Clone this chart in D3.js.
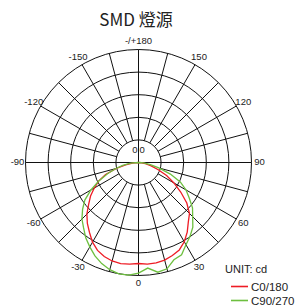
<!DOCTYPE html>
<meta charset="utf-8">
<script src="https://d3js.org/d3.v7.min.js"></script>
<style>
  body { margin: 0; background: #fff; }
</style>
<div id="my_dataviz"></div>
<script>

// angles (deg, 0 = straight down, positive to the right)
var angles = [-90,-85,-80,-75,-70,-65,-60,-55,-50,-45,-40,-35,-30,-25,-20,-15,-10,-5,
              0,5,10,15,20,25,30,35,40,45,50,55,60,65,70,75,80,85,90];

// intensity in cd
var c0_180 = [0,27,58,102,155,195,226,259,288,323,352,378,407,429,443,451,454,451,
              447,451,451,447,438,427,405,376,343,319,279,228,181,137,93,58,31,13,0];
var c90_270 = [0,35,71,106,146,195,243,290,323,354,378,407,431,456,476,491,500,500,
               489,469,493,487,458,451,420,398,374,339,312,274,243,204,150,93,53,22,0];

var ringValues = [100,200,300,400,500];
var angleLabels = [
  {a: 0, t: "0"}, {a: 30, t: "30"}, {a: 60, t: "60"}, {a: 90, t: "90"},
  {a: 120, t: "120"}, {a: 150, t: "150"}, {a: 180, t: "-/+180"},
  {a: -150, t: "-150"}, {a: -120, t: "-120"}, {a: -90, t: "-90"},
  {a: -60, t: "-60"}, {a: -30, t: "-30"}
];
var series = [
  {name: "C0/180", values: c0_180, color: "#ee1c25"},
  {name: "C90/270", values: c90_270, color: "#6dbf3f"}
];

var width = 296, height = 307,
    cx = 138.5, cy = 162.5, R = 113;

var svg = d3.select("#my_dataviz")
  .append("svg")
    .attr("width", width)
    .attr("height", height);

var r = d3.scaleLinear().domain([0, 500]).range([0, R]);
// d3 radial angle: 0 = up, clockwise
var ang = d3.scaleLinear().domain([-180, 180]).range([2 * Math.PI, 0]);

function px(a, rad) { return cx + rad * Math.sin(ang(a)); }
function py(a, rad) { return cy - rad * Math.cos(ang(a)); }

// title
svg.append("text")
  .attr("x", 136)
  .attr("y", 26)
  .attr("text-anchor", "middle")
  .attr("font-family", "'Noto Sans CJK TC', 'Noto Sans', sans-serif")
  .attr("font-size", 17)
  .attr("fill", "#222")
  .text("SMD 燈源");

var grid = svg.append("g")
  .attr("fill", "none")
  .attr("stroke", "#111")
  .attr("stroke-width", 1);

grid.selectAll("circle")
  .data(ringValues)
  .enter().append("circle")
    .attr("cx", cx)
    .attr("cy", cy)
    .attr("r", function(d) { return r(d); });

// spokes every 15 deg, starting at first ring
var spokes = d3.range(-165, 181, 15);
grid.selectAll("line.spoke")
  .data(spokes)
  .enter().append("line")
    .attr("class", "spoke")
    .attr("x1", function(d) { return px(d, d % 90 === 0 ? 0 : r(ringValues[0])); })
    .attr("y1", function(d) { return py(d, d % 90 === 0 ? 0 : r(ringValues[0])); })
    .attr("x2", function(d) { return px(d, r(500)); })
    .attr("y2", function(d) { return py(d, r(500)); });

// angle labels
svg.append("g")
  .attr("font-family", "'Liberation Sans', Arial, sans-serif")
  .attr("font-size", 9.5)
  .attr("fill", "#222")
  .attr("text-anchor", "middle")
  .selectAll("text")
  .data(angleLabels)
  .enter().append("text")
    .attr("x", function(d) { return px(d.a, R + 8); })
    .attr("y", function(d) { return py(d.a, R + 8) - 1; })
    .attr("dominant-baseline", "central")
    .text(function(d) { return d.t; });

// zero labels at centre
svg.append("text")
  .attr("x", cx - 1).attr("y", cy - 9.5)
  .attr("text-anchor", "end")
  .attr("font-family", "'Liberation Sans', Arial, sans-serif")
  .attr("font-size", 9.5).attr("fill", "#222")
  .text("0");
svg.append("text")
  .attr("x", cx + 1).attr("y", cy - 9.5)
  .attr("text-anchor", "start")
  .attr("font-family", "'Liberation Sans', Arial, sans-serif")
  .attr("font-size", 9.5).attr("fill", "#222")
  .text("0");

// curves
var line = d3.lineRadial()
  .angle(function(d) { return ang(d[0]); })
  .radius(function(d) { return r(d[1]); });

svg.append("g")
  .attr("transform", "translate(" + cx + "," + cy + ")")
  .selectAll("path")
  .data(series)
  .enter().append("path")
    .attr("fill", "none")
    .attr("stroke", function(d) { return d.color; })
    .attr("stroke-width", 1.3)
    .attr("d", function(d) { return line(angles.map(function(a, i) { return [a, d.values[i]]; })); });

// legend
svg.append("text")
  .attr("x", 225).attr("y", 273)
  .attr("font-family", "'Liberation Sans', Arial, sans-serif")
  .attr("font-size", 11).attr("fill", "#222")
  .text("UNIT: cd");

var legend = svg.append("g")
  .selectAll("g")
  .data(series)
  .enter().append("g")
    .attr("transform", function(d, i) { return "translate(0," + (286.5 + i * 14) + ")"; });

legend.append("line")
  .attr("x1", 231).attr("x2", 248)
  .attr("stroke", function(d) { return d.color; })
  .attr("stroke-width", 1.6);

legend.append("text")
  .attr("x", 251).attr("y", 4)
  .attr("font-family", "'Liberation Sans', Arial, sans-serif")
  .attr("font-size", 11.5).attr("fill", "#222")
  .text(function(d) { return d.name; });

</script>
